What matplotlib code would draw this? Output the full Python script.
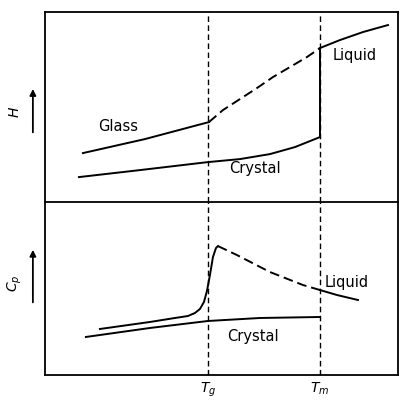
import matplotlib.pyplot as plt
from matplotlib.patches import FancyArrowPatch

# Temperaturas caracteristicas (unidades arbitrarias)
Tg = 208
Tm = 320
T_min, T_max = 45, 398

# Panel superior: entalpia H
glass_T = [83, 145, 209]
glass_H = [49, 63, 80]

supercooled_T = [209, 223, 240, 257, 273, 290, 307, 320]
supercooled_H = [80, 92, 103, 114, 125, 135, 145, 154]

liquid_T = [320, 340, 363, 388]
liquid_H = [154, 162, 170, 177]

crystal_T = [79, 140, 208, 240, 270, 295, 320]
crystal_H = [25, 32, 40, 43, 48, 55, 65]

# Panel inferior: capacidad calorifica Cp
glass_cp_T = [100, 150, 175, 188, 195, 200, 204, 207, 210, 213, 216, 218]
glass_cp = [46, 53, 57, 59, 62, 66, 73, 84, 100, 118, 127, 129]

supercooled_cp_T = [218, 237, 270, 303, 320]
supercooled_cp = [129, 120, 103, 90, 85]

liquid_cp_T = [320, 337, 358]
liquid_cp = [85, 80, 75]

crystal_cp_T = [86, 150, 208, 260, 320]
crystal_cp = [38, 47, 54, 57, 58]

fig = plt.figure(figsize=(4.01, 4.01), dpi=100)
ax1 = fig.add_axes([0.112, 0.496, 0.8805, 0.474])
ax2 = fig.add_axes([0.112, 0.065, 0.8805, 0.431])
ax2.patch.set_alpha(0)

lw = 1.4
dash_curve = (0, (5, 2.5))
dash_v = (0, (4, 2.5))

# --- H ---
ax1.plot(glass_T, glass_H, color='black', lw=lw)
ax1.plot(supercooled_T, supercooled_H, color='black', lw=lw, linestyle=dash_curve)
ax1.plot(liquid_T, liquid_H, color='black', lw=lw)
ax1.plot(crystal_T, crystal_H, color='black', lw=lw)
ax1.axvline(Tg, color='black', lw=1.0, linestyle=dash_v)
ax1.axvline(Tm, color='black', lw=1.0, linestyle=dash_v)
ax1.vlines(Tm, crystal_H[-1], liquid_H[0], color='black', lw=lw)
ax1.set_xlim(T_min, T_max)
ax1.set_ylim(0, 190)
ax1.text(118, 76, 'Glass', fontsize=10.5, ha='center', va='center')
ax1.text(355, 147, 'Liquid', fontsize=10.5, ha='center', va='center')
ax1.text(255, 34, 'Crystal', fontsize=10.5, ha='center', va='center')
ax1.set_xticks([])
ax1.set_yticks([])

# --- Cp ---
ax2.plot(glass_cp_T, glass_cp, color='black', lw=lw)
ax2.plot(supercooled_cp_T, supercooled_cp, color='black', lw=lw, linestyle=dash_curve)
ax2.plot(liquid_cp_T, liquid_cp, color='black', lw=lw)
ax2.plot(crystal_cp_T, crystal_cp, color='black', lw=lw)
ax2.axvline(Tg, color='black', lw=1.0, linestyle=dash_v)
ax2.axvline(Tm, color='black', lw=1.0, linestyle=dash_v)
ax2.set_xlim(T_min, T_max)
ax2.set_ylim(0, 173)
ax2.text(347, 93, 'Liquid', fontsize=10.5, ha='center', va='center')
ax2.text(253, 38, 'Crystal', fontsize=10.5, ha='center', va='center')
ax2.set_xticks([Tg, Tm])
ax2.set_xticklabels(['$T_g$', '$T_m$'], fontsize=10)
ax2.tick_params(axis='x', direction='in', length=3, pad=4)
ax2.set_yticks([])
ax2.spines['top'].set_visible(False)

for ax in (ax1, ax2):
    for s in ax.spines.values():
        s.set_linewidth(1.3)

# Etiquetas de los ejes con flecha
fig.text(0.037, 0.72, '$H$', rotation=90, fontsize=10, ha='center', va='center')
fig.text(0.037, 0.294, '$C_p$', rotation=90, fontsize=10, ha='center', va='center')
for y0, y1 in [(0.663, 0.785), (0.239, 0.384)]:
    fig.add_artist(FancyArrowPatch((0.082, y0), (0.082, y1),
                   transform=fig.transFigure, arrowstyle='-|>', mutation_scale=9,
                   color='black', lw=1.3))

fig.savefig('out.png', dpi=100)
